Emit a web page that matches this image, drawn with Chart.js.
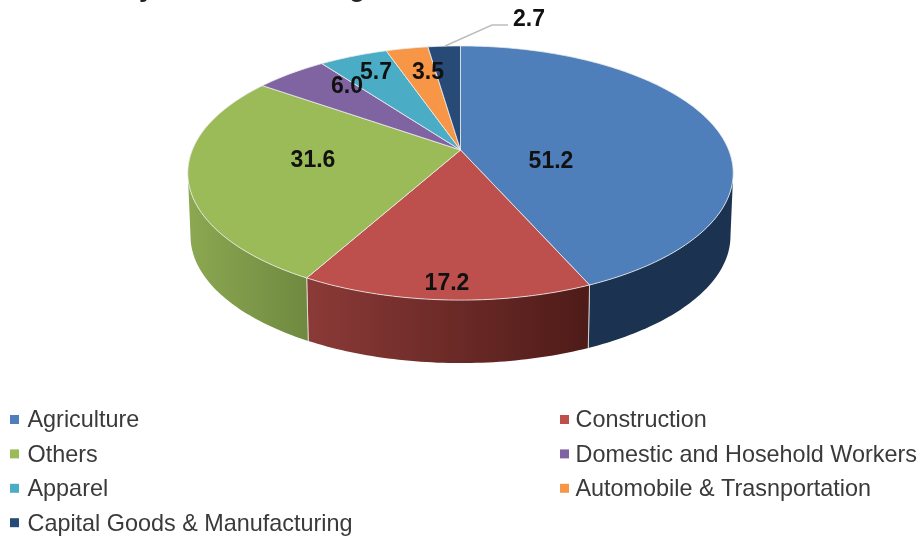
<!DOCTYPE html>
<html>
<head>
<meta charset="utf-8">
<style>
html,body{margin:0;padding:0;background:#fff;overflow:hidden}
#wrap{width:921px;height:537px;position:relative}
canvas{display:block;filter:blur(0.6px)}
</style>
<script src="https://cdn.jsdelivr.net/npm/chart.js@4"></script>
</head>
<body>
<div id="wrap"><canvas id="c" width="921" height="537"></canvas></div>
<script>
const categories = ["Agriculture","Construction","Others","Domestic and Hosehold Workers","Apparel","Automobile & Trasnportation","Capital Goods & Manufacturing"];
const values = [51.2,17.2,31.6,6.0,5.7,3.5,2.7];
const valueLabels = ["51.2","17.2","31.6","6.0","5.7","3.5","2.7"];
const colors = ["#4f7fbb","#bd4f4c","#9bbb59","#8064a2","#4bacc6","#f79646","#274a77"];

// perspective look of the pie
const view = {ax:1.80, by:0.825, persp:0.181, depth:63, shrink:0.99};
const labelAnchors = [[551,162],[447,284],[313,161],[347,87],[376,73],[428,73],[529,20]];
const wallFills = [["#1b3350","#1b3350"],["#8b3a37","#4e1b18"],["#8ca851","#6f8a40"]];

function project(el,theta){ // theta = canvas angle, as in ArcElement
  const X=Math.cos(theta), Yd=Math.sin(theta);
  const w=1-view.persp*Yd;
  return [el.x+el.outerRadius*view.ax*X/w, el.y+el.outerRadius*view.by*Yd/w];
}
function wallPoint(el,theta){
  const p=project(el,theta);
  return [el.x+(p[0]-el.x)*view.shrink, p[1]+view.depth];
}
function samples(a,b){
  const n=Math.max(2,Math.ceil(Math.abs(b-a)/(Math.PI/180))), out=[];
  for(let i=0;i<=n;i++) out.push(a+(b-a)*i/n);
  return out;
}
const pie3d = {
  id:"pie3d",
  beforeDatasetDraw(chart,args){
    const ctx=chart.ctx, arcs=chart.getDatasetMeta(args.index).data;
    const lim=Math.acos(view.persp);         // silhouette of the rim
    const lo=Math.PI/2-lim, hi=Math.PI/2+lim;
    ctx.save();
    // side wall
    arcs.forEach((el,i)=>{
      const a=Math.max(el.startAngle,lo), b=Math.min(el.endAngle,hi);
      if(b<=a) return;
      const th=samples(a,b);
      ctx.beginPath();
      th.forEach((t,k)=>{const p=project(el,t); k?ctx.lineTo(p[0],p[1]):ctx.moveTo(p[0],p[1]);});
      th.slice().reverse().forEach(t=>{const p=wallPoint(el,t); ctx.lineTo(p[0],p[1]);});
      ctx.closePath();
      const xs=th.map(t=>project(el,t)[0]);
      const g=ctx.createLinearGradient(Math.max(...xs),0,Math.min(...xs),0);
      const f=wallFills[i]||[colors[i],colors[i]];
      g.addColorStop(0,f[1]); g.addColorStop(1,f[0]);
      ctx.fillStyle=g; ctx.fill();
      // seam at start / end of the wall
      ctx.strokeStyle="rgba(235,235,235,0.75)"; ctx.lineWidth=1;
      [[a,el.startAngle>=lo],[b,el.endAngle<=hi]].forEach(([t,show])=>{
        if(!show) return;
        const p=project(el,t), q=wallPoint(el,t);
        ctx.beginPath(); ctx.moveTo(p[0],p[1]); ctx.lineTo(q[0],q[1]); ctx.stroke();
      });
    });
    // top face
    arcs.forEach((el,i)=>{
      ctx.beginPath();
      ctx.moveTo(el.x,el.y);
      samples(el.startAngle,el.endAngle).forEach(t=>{const p=project(el,t); ctx.lineTo(p[0],p[1]);});
      ctx.closePath();
      ctx.fillStyle=colors[i]; ctx.fill();
      ctx.strokeStyle="rgba(238,238,238,0.8)"; ctx.lineWidth=1; ctx.lineJoin="round"; ctx.stroke();
    });
    ctx.restore();
    return false;
  },
  afterDatasetsDraw(chart){
    const ctx=chart.ctx;
    ctx.save();
    // title, cut by the top of the picture: only the descenders remain
    ctx.fillStyle="#222"; ctx.font='bold 27px "Liberation Sans"'; ctx.textAlign="left"; ctx.textBaseline="alphabetic";
    ctx.fillText("y",139,-4); ctx.fillText("g",349,-4);
    // leader line of the smallest slice
    ctx.strokeStyle="#bdbdbd"; ctx.lineWidth=1.4;
    ctx.beginPath(); ctx.moveTo(445,46); ctx.lineTo(492,25); ctx.lineTo(508,25); ctx.stroke();
    // value labels
    ctx.fillStyle="#111"; ctx.font='bold 23px "Liberation Sans"'; ctx.textAlign="center"; ctx.textBaseline="middle";
    valueLabels.forEach((t,i)=>ctx.fillText(t,labelAnchors[i][0],labelAnchors[i][1]));
    // legend, two columns
    ctx.font='23.4px "Liberation Sans"'; ctx.textAlign="left";
    categories.forEach((t,i)=>{
      const col=i%2, row=(i-col)/2, x=col?560:10, y=419.5+row*34.4;
      ctx.fillStyle=colors[i]; ctx.fillRect(x,y-4.5,9,9);
      ctx.fillStyle="#3a3a3a"; ctx.fillText(t,col?575.5:27.5,y+1.5);
    });
    ctx.restore();
  }
};
new Chart(document.getElementById("c"),{
  type:"pie",
  data:{labels:categories,datasets:[{data:values,backgroundColor:colors}]},
  options:{
    responsive:false,animation:false,
    rotation:0,
    layout:{padding:{top:0,bottom:237,left:0,right:0}},
    plugins:{legend:{display:false},tooltip:{enabled:false},title:{display:false}}
  },
  plugins:[pie3d]
});
</script>
</body>
</html>
